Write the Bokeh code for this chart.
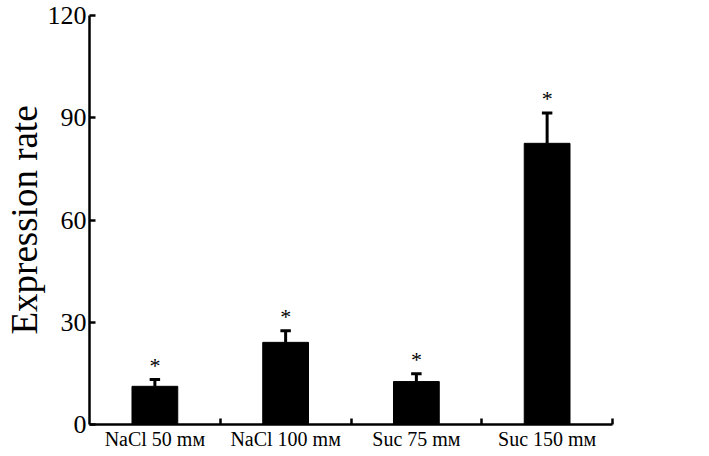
from bokeh.plotting import figure
from bokeh.models import FixedTicker, Range1d
from bokeh.core.properties import value
from bokeh.embed import file_html
from bokeh.resources import INLINE

categories = ["NaCl 50 mᴍ", "NaCl 100 mᴍ", "Suc 75 mᴍ", "Suc 150 mᴍ"]
means = [11.2, 24.1, 12.6, 82.5]
errors = [2.0, 3.4, 2.3, 8.9]
y_ticks = [0, 30, 60, 90, 120]

xs = [i + 0.5 for i in range(len(categories))]
uppers = [m + e for m, e in zip(means, errors)]
FONT = "Liberation Serif"

p = figure(width=628, height=452, output_backend="svg", toolbar_location=None,
           x_range=Range1d(0, len(categories)), y_range=Range1d(0, 120),
           min_border_left=89, min_border_right=16, min_border_top=15, min_border_bottom=10)
p.outline_line_color = None
p.grid.visible = False

p.vbar(x=xs, top=means, bottom=0, width=0.35, color="black")
p.segment(x0=xs, y0=means, x1=xs, y1=uppers, line_color="black", line_width=3)
p.segment(x0=[x - 0.04 for x in xs], y0=uppers, x1=[x + 0.04 for x in xs], y1=uppers,
          line_color="black", line_width=3)
p.text(x=xs, y=uppers, text=["*"] * len(xs), text_align="center", text_baseline="bottom",
       y_offset=-2, text_font=value(FONT), text_font_size="22px", text_color="black")

xa = p.xaxis[0]
xa.ticker = FixedTicker(ticks=xs, minor_ticks=[i + 1 for i in range(len(categories))])
xa.major_label_overrides = {x: c for x, c in zip(xs, categories)}
xa.major_tick_in = 0
xa.major_tick_out = 0
xa.minor_tick_in = 6
xa.minor_tick_out = 0
xa.minor_tick_line_width = 2.5
xa.minor_tick_line_color = "black"
xa.axis_line_width = 2.5
xa.axis_line_color = "black"
xa.major_label_standoff = 3
xa.major_label_text_font = FONT
xa.major_label_text_font_size = "20px"
xa.major_label_text_color = "black"

ya = p.yaxis[0]
ya.ticker = FixedTicker(ticks=y_ticks)
ya.minor_tick_line_color = None
ya.major_tick_in = 6
ya.major_tick_out = 0
ya.major_tick_line_width = 2.5
ya.major_tick_line_color = "black"
ya.axis_line_width = 2.5
ya.axis_line_color = "black"
ya.major_label_standoff = 3
ya.major_label_text_font = FONT
ya.major_label_text_font_size = "26px"
ya.major_label_text_color = "black"
ya.axis_label = "Expression rate"
ya.axis_label_text_font = FONT
ya.axis_label_text_font_style = "normal"
ya.axis_label_text_font_size = "37px"
ya.axis_label_text_color = "black"
ya.axis_label_standoff = 0

open("out.html", "w").write(file_html(p, INLINE))
